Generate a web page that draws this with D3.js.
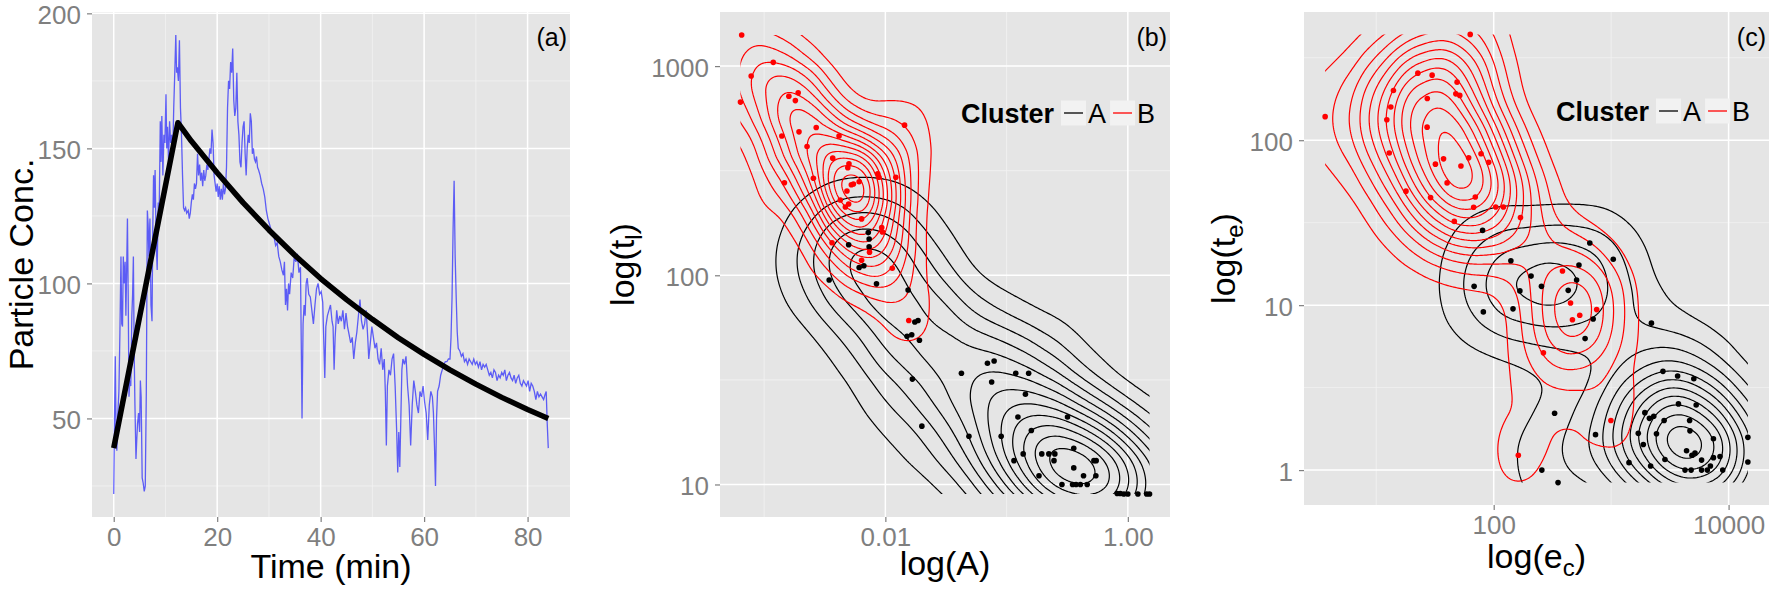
<!DOCTYPE html>
<html>
<head>
<meta charset="utf-8">
<script src="https://cdn.jsdelivr.net/npm/d3@7"></script>
<style>
  body { margin: 0; background: #fff; }
  svg { display: block; }
</style>
</head>
<body>
<div id="chart"></div>
<script>
//Panel (a): concentración de partículas frente al tiempo
const timeMin = [0.0,0.15,0.3,0.45,0.6,0.8,1.0,1.2,1.4,1.55,1.7,1.85,2.0,2.2,2.35,2.5,2.65,2.8,2.95,3.1,3.3,3.5,3.65,3.8,3.95,4.1,4.3,4.45,4.6,4.8,5.0,5.15,5.3,5.5,5.7,5.9,6.1,6.3,6.5,6.65,6.8,7.0,7.2,7.4,7.55,7.7,7.85,8.0,8.2,8.4,8.6,8.8,9.0,9.15,9.3,9.5,9.7,9.9,10.1,10.25,10.4,10.6,10.8,11.0,11.2,11.4,11.6,11.8,12.0,12.15,12.3,12.5,12.7,12.9,13.1,13.3,13.5,13.7,13.9,14.1,14.4,14.6,14.8,15.0,15.2,15.4,15.6,15.8,16.0,16.2,16.4,16.6,16.8,17.0,17.2,17.4,17.6,17.8,18.0,18.2,18.4,18.6,18.8,19.0,19.2,19.4,19.6,19.8,20.0,20.2,20.4,20.6,20.8,21.0,21.2,21.4,21.6,21.8,22.0,22.2,22.4,22.6,22.8,23.0,23.2,23.4,23.6,23.8,24.0,24.2,24.4,24.6,24.8,25.0,25.2,25.4,25.6,25.8,26.0,26.2,26.4,26.6,26.8,27.0,27.2,27.4,27.6,27.8,28.0,28.3,28.6,28.9,29.2,29.5,29.8,30.1,30.4,30.7,31.0,31.3,31.6,31.9,32.2,32.5,32.8,33.0,33.2,33.4,33.6,33.8,34.0,34.3,34.6,34.9,35.2,35.5,35.8,36.1,36.4,36.6,36.8,37.0,37.2,37.4,37.7,38.0,38.3,38.6,38.9,39.2,39.5,39.8,40.1,40.4,40.8,41.0,41.3,41.6,41.9,42.2,42.4,42.6,42.8,43.1,43.4,43.7,44.0,44.3,44.6,44.9,45.2,45.5,45.8,46.1,46.4,46.7,47.0,47.3,47.6,47.9,48.2,48.5,48.8,49.1,49.3,49.6,49.9,50.2,50.5,50.8,51.1,51.4,51.7,52.0,52.3,52.5,52.7,52.9,53.2,53.5,53.8,54.1,54.4,54.7,54.9,55.1,55.3,55.5,55.7,55.9,56.2,56.5,56.8,57.1,57.4,57.7,58.0,58.3,58.6,58.9,59.2,59.5,59.8,60.1,60.4,60.7,61.0,61.3,61.6,61.8,62.0,62.2,62.4,62.6,62.9,63.2,63.5,63.8,64.1,64.4,64.7,65.0,65.2,65.4,65.6,65.8,66.0,66.2,66.4,66.6,66.9,67.2,67.5,67.8,68.1,68.4,68.7,69.0,69.3,69.6,69.9,70.2,70.5,70.8,71.1,71.4,71.7,72.0,72.3,72.6,72.9,73.2,73.5,73.8,74.1,74.4,74.7,75.0,75.3,75.6,75.9,76.2,76.5,76.8,77.1,77.4,77.7,78.0,78.3,78.6,78.9,79.2,79.5,79.8,80.1,80.4,80.7,81.0,81.3,81.6,81.9,82.2,82.5,82.8,83.1,83.4,83.6,83.8,84.0];
const particleConc = [22,50,73,45,38,52,60,82,110,85,84,110,100,108,88,105,124,95,58,64,62,88,96,110,75,55,35,42,48,52,45,64,58,28,26,23,25,60,127,122,110,124,92,86,120,140,128,142,115,105,130,128,160,145,162,140,155,152,170,150,158,145,160,152,155,148,165,178,192,178,180,175,190,165,155,140,128,127,128,126,127,124,126,130,133,131,137,135,137,148,140,144,138,141,136,142,138,140,144,142,146,150,148,157,152,140,137,134,137,132,136,131,135,131,137,133,135,143,165,175,172,182,178,187,168,162,165,178,160,155,145,143,152,158,160,148,140,150,155,152,163,160,148,150,146,145,147,143,142,140,137,135,132,127,124,122,120,118,117,114,115,110,108,105,103,108,92,98,90,100,96,104,102,110,108,111,104,106,50,85,92,88,100,102,96,95,90,85,92,98,100,96,97,93,65,84,88,90,92,86,84,68,80,90,85,88,86,90,83,89,84,81,78,80,72,78,82,88,94,86,83,85,90,80,72,78,84,80,76,78,72,70,76,68,72,60,40,62,68,66,72,74,62,45,30,45,32,50,68,72,70,73,62,55,40,55,64,60,55,52,60,58,62,56,52,42,55,60,58,52,40,25,50,60,62,66,68,70,71,71,72,72,80,95,120,138,110,95,82,76,75,73,74,71,72,70,72,71,70,72,70,71,69,71,68,70,69,70,68,66,67,65,68,67,64,66,65,67,66,68,64,66,67,65,64,66,63,65,66,63,62,64,63,62,64,60,63,62,60,57,60,58,59,58,57,59,60,48,39];

//Ajuste (línea negra)
const fitTime = [0, 12.4, 15, 20, 25, 30, 35, 40, 45, 50, 55, 60, 65, 70, 75, 80, 84];
const fitConc = [39, 159.5, 152.7, 141, 129.9, 119.8, 110.4, 101.8, 94, 86.7, 79.9, 73.7, 68, 62.7, 57.8, 53.3, 50];

//Panel (b): A frente a t_l por cluster
const bAreaA = [0.00723,0.00735,0.00735,0.00498,0.00608,0.00665,0.00344,0.00845,0.0154,0.0175,0.0186,0.0151,0.0165,0.0191,0.0167,0.0424,0.0695,0.0789,0.0753,0.119,0.152,0.143,0.02,0.0489,0.0902,0.124,0.16,0.318,0.358,0.195,0.223,0.25,0.246,0.137,0.115,0.185,0.358,0.431,0.525,0.548,0.545,0.286,0.35,0.374,0.406,0.462,0.817,0.867,0.927,1.0,1.21,1.43,1.51];
const bTimeA = [160,149,137,140,109,111,95,91,85,59.8,60.8,51.1,52,48.9,31.9,34,38,38.9,30.9,34,34,27,19,17,17,21,18.1,21,14.9,14,14,14,13,14,13,11,12,11,13,13,11,10,10,10,10,10,9.05,9.05,9,9,9,9,9];
const bAreaB = [0.000653,0.000638,0.000782,0.00119,0.0016,0.00181,0.00191,0.0014,0.00194,0.00269,0.00226,0.00415,0.00147,0.00255,0.00368,0.00501,0.0049,0.00524,0.00545,0.00482,0.00608,0.00425,0.00468,0.00498,0.00865,0.00885,0.0122,0.0144,0.00933,0.00946,0.00637,0.00363,0.0074,0.00637,0.0114,0.0156];
const bTimeB = [1409,673,897,1042,718,684,745,463,485,509,413,463,277,291,363,341,327,271,273,253,280,229,212,219,306,294,294,522,169,161,186,143,129,118,108,60.8];

//Panel (c): e_c frente a t_e por cluster
const cEnergyA = [80.4,658,1042,140,532,208,255,508,68.1,167,431,146,81.6,703,600,2203,2761,3681,5058,3741,5297,1936,2118,2305,2825,4656,1702,2432,4688,7430,1879,736,330,4385,4875,5176,2871,5888,7430,8453,14590,14590,1419,2168,4256,4797,5888,6592,6998,8913,257,353];
const cTimeA = [28.4,23.8,19,18.6,17.5,15,13,14.2,13,12.2,12.3,9.5,9.1,8.24,6.27,7.78,3.97,3.72,3.58,2.52,2.48,2.23,2.06,2.12,2.0,2.0,1.67,1.66,1.73,1.55,1.43,1.64,2.21,1.31,1.23,1.27,1.16,1.15,1.19,1.21,1.58,1.12,1.11,1.06,1.0,1.0,1.0,1.0,1.06,1.0,1.0,0.84];
const cEnergyB = [3.67,14.0,13.3,12.3,22.6,29.9,27.2,27.1,48.8,47.6,51.4,12.9,17.9,29.0,31.9,37.4,40.1,52.6,61.2,78.0,90.6,69.7,67.5,46.2,104,121,169,63.1,385,451,468,540,753,265,995,162];
const cTimeB = [139,200,159,133,255,248,179,120,225,191,187,83.7,49.1,44.9,71.6,77.1,55.1,69.7,78.2,82.8,73.4,45.3,39.2,32.2,39.4,39.4,34,438,16.1,10.3,8.15,8.68,9.4,5.14,2.0,1.23];

//Ticks y rejillas
const aTicksX = [0, 20, 40, 60, 80], aMinorX = [10, 30, 50, 70];
const aTicksY = [50, 100, 150, 200], aMinorY = [25, 75, 125, 175];
const bTicksX = [0.01, 1], bLabelsX = ['0.01', '1.00'], bMinorX = [0.001, 0.1];
const bTicksY = [10, 100, 1000], bLabelsY = ['10', '100', '1000'], bMinorY = [31.623, 316.23];
const cTicksX = [100, 10000], cLabelsX = ['100', '10000'], cMinorX = [10, 1000];
const cTicksY = [1, 10, 100], cLabelsY = ['1', '10', '100'], cMinorY = [3.1623, 31.623, 316.23];

const clusterNames = ['A', 'B'];
const clusterColors = ['#000000', '#ff0000'];

const FONT = "'Liberation Sans', Arial, sans-serif";

let svg = d3.select('#chart')
    .append('svg')
      .attr('width', 1776)
      .attr('height', 589)
      .style('font-family', FONT);

function expand(e) {
    let d = e[1] - e[0];
    return [e[0] - d * 0.05, e[1] + d * 0.05];
}

function logDomain(vals) {
    return expand(d3.extent(vals, function(v) { return Math.log10(v); }))
        .map(function(v) { return Math.pow(10, v); });
}

//Fondo, rejilla y ejes de un panel
function setPanel(box, x, y, tx, fx, mx, ty, fy, my, id, tag) {
    let w = box.right - box.left, h = box.bottom - box.top;
    let g = svg.append('g').attr('transform', 'translate(' + box.left + ',' + box.top + ')');

    g.append('rect').attr('width', w).attr('height', h).attr('fill', '#e5e5e5');

    g.selectAll('.minor-x').data(mx).enter().append('line')
        .attr('x1', function(d) { return x(d); }).attr('x2', function(d) { return x(d); })
        .attr('y1', 0).attr('y2', h)
        .attr('stroke', '#f2f2f2').attr('stroke-width', 0.8);
    g.selectAll('.minor-y').data(my).enter().append('line')
        .attr('y1', function(d) { return y(d); }).attr('y2', function(d) { return y(d); })
        .attr('x1', 0).attr('x2', w)
        .attr('stroke', '#f2f2f2').attr('stroke-width', 0.8);
    g.selectAll('.major-x').data(tx).enter().append('line')
        .attr('x1', function(d) { return x(d); }).attr('x2', function(d) { return x(d); })
        .attr('y1', 0).attr('y2', h)
        .attr('stroke', '#ffffff').attr('stroke-width', 1.5);
    g.selectAll('.major-y').data(ty).enter().append('line')
        .attr('y1', function(d) { return y(d); }).attr('y2', function(d) { return y(d); })
        .attr('x1', 0).attr('x2', w)
        .attr('stroke', '#ffffff').attr('stroke-width', 1.5);

    let xAxis = g.append('g')
        .attr('transform', 'translate(0,' + h + ')')
        .call(d3.axisBottom(x).tickValues(tx).tickFormat(function(d, i) { return fx[i]; }).tickSize(5).tickPadding(6));
    let yAxis = g.append('g')
        .call(d3.axisLeft(y).tickValues(ty).tickFormat(function(d, i) { return fy[i]; }).tickSize(5).tickPadding(6));

    [xAxis, yAxis].forEach(function(a) {
        a.attr('font-family', FONT).attr('font-size', 26);
        a.select('.domain').remove();
        a.selectAll('.tick line').attr('stroke', '#7f7f7f').attr('stroke-width', 1.2);
        a.selectAll('.tick text').attr('fill', '#7f7f7f');
    });
    yAxis.selectAll('.tick text').attr('dy', '0.4em');

    //Etiqueta del panel
    g.append('text')
        .attr('x', w - 3).attr('y', 34)
        .attr('text-anchor', 'end')
        .attr('font-size', 25)
        .text(tag);

    g.append('clipPath').attr('id', id)
        .append('rect').attr('width', w).attr('height', h);

    return { g: g.append('g').attr('clip-path', 'url(#' + id + ')'), w: w, h: h };
}

//Ancho de banda como MASS::bandwidth.nrd / 4 (kde2d)
function nrd(v) {
    let s = d3.sort(v);
    let iqr = d3.quantileSorted(s, 0.75) - d3.quantileSorted(s, 0.25);
    return 1.06 * Math.min(d3.deviation(v), iqr / 1.34) * Math.pow(v.length, -0.2);
}

//Contornos de densidad 2D en escala log
function drawDensity(g, xv, yv, color, x, y, w, h, clipId, nLevels) {
    let n = xv.length;
    let pxX = x(10) - x(1), pxY = y(1) - y(10);
    let hx = nrd(xv.map(Math.log10)) * pxX,
        hy = nrd(yv.map(Math.log10)) * pxY;
    let k = hy / hx;
    let pts = xv.map(function(v, i) { return [x(v) * k, y(yv[i])]; });

    let density = d3.contourDensity()
        .x(function(d) { return d[0]; })
        .y(function(d) { return d[1]; })
        .size([Math.ceil(w * k), h])
        .cellSize(2)
        .bandwidth(hy);

    let geoms;
    if (typeof density.contours === 'function') {
        let contour = density.contours(pts);
        let levels = d3.range(1, nLevels + 1).map(function(i) { return contour.max * i / (nLevels + 0.6); });
        geoms = levels.map(function(l) { return contour(l); });
    } else {
        geoms = density.thresholds(nLevels)(pts);
    }

    let path = d3.geoPath(d3.geoTransform({
        point: function(px, py) { this.stream.point(px / k, py); }
    }));

    g.append('g')
        .attr('clip-path', 'url(#' + clipId + ')')
        .selectAll('path')
        .data(geoms)
        .enter()
        .append('path')
        .attr('d', path)
        .attr('fill', 'none')
        .attr('stroke', color)
        .attr('stroke-width', 1.2)
        .attr('stroke-linejoin', 'round');
}

function drawPoints(g, xv, yv, color, x, y) {
    g.append('g')
        .selectAll('circle')
        .data(xv)
        .enter()
        .append('circle')
        .attr('cx', function(d) { return x(d); })
        .attr('cy', function(d, i) { return y(yv[i]); })
        .attr('r', 2.8)
        .attr('fill', color);
}

function drawLegend(xText, baseline) {
    let lg = svg.append('g');
    let title = lg.append('text')
        .attr('x', xText).attr('y', baseline)
        .attr('font-size', 27).attr('font-weight', 'bold')
        .text('Cluster');
    let xk = xText + title.node().getComputedTextLength() + 7;
    clusterNames.forEach(function(name, i) {
        lg.append('rect')
            .attr('x', xk).attr('y', baseline - 22.5)
            .attr('width', 25).attr('height', 25)
            .attr('fill', '#f2f2f2');
        lg.append('line')
            .attr('x1', xk + 3).attr('x2', xk + 22)
            .attr('y1', baseline - 10).attr('y2', baseline - 10)
            .attr('stroke', clusterColors[i]).attr('stroke-width', 1.3);
        let t = lg.append('text')
            .attr('x', xk + 27).attr('y', baseline)
            .attr('font-size', 27)
            .text(name);
        xk += 27 + t.node().getComputedTextLength() + 4;
    });
}

function axisTitles(box, xTitle, xBase, yTitle, yBase) {
    let cx = (box.left + box.right) / 2, cy = (box.top + box.bottom) / 2;
    let xt = svg.append('text').attr('x', cx).attr('y', xBase)
        .attr('text-anchor', 'middle').attr('font-size', 34);
    xTitle(xt);
    let yt = svg.append('text')
        .attr('transform', 'translate(' + yBase + ',' + cy + ') rotate(-90)')
        .attr('text-anchor', 'middle').attr('font-size', 34);
    yTitle(yt);
}

function withSub(main, sub) {
    return function(t) {
        t.append('tspan').text(main);
        t.append('tspan').attr('font-size', 24).attr('dy', 8).text(sub);
        t.append('tspan').attr('dy', -8).text(')');
    };
}

/////
// Panel (a)
/////
let boxA = { left: 92, right: 570, top: 12, bottom: 517 };
let xA = d3.scaleLinear().domain(expand(d3.extent(timeMin))).range([0, boxA.right - boxA.left]);
let yA = d3.scaleLinear().domain(expand(d3.extent(particleConc.concat(fitConc)))).range([boxA.bottom - boxA.top, 0]);
let pA = setPanel(boxA, xA, yA, aTicksX, aTicksX.map(String), aMinorX, aTicksY, aTicksY.map(String), aMinorY, 'clip-a', '(a)');

pA.g.append('path')
    .datum(d3.range(timeMin.length))
    .attr('d', d3.line().x(function(i) { return xA(timeMin[i]); }).y(function(i) { return yA(particleConc[i]); }))
    .attr('fill', 'none')
    .attr('stroke', '#0000ff')
    .attr('stroke-opacity', 0.6)
    .attr('stroke-width', 1.3);

pA.g.append('path')
    .datum(d3.range(fitTime.length))
    .attr('d', d3.line().x(function(i) { return xA(fitTime[i]); }).y(function(i) { return yA(fitConc[i]); }))
    .attr('fill', 'none')
    .attr('stroke', '#000')
    .attr('stroke-width', 5.5)
    .attr('stroke-linejoin', 'round');

axisTitles(boxA, function(t) { t.text('Time (min)'); }, 578, function(t) { t.text('Particle Conc.'); }, 33);

/////
// Panel (b)
/////
let boxB = { left: 720, right: 1170, top: 12, bottom: 517 };
let allBx = bAreaA.concat(bAreaB), allBy = bTimeA.concat(bTimeB);
let xB = d3.scaleLog().domain(logDomain(allBx)).range([0, boxB.right - boxB.left]);
let yB = d3.scaleLog().domain(logDomain(allBy)).range([boxB.bottom - boxB.top, 0]);
let pB = setPanel(boxB, xB, yB, bTicksX, bLabelsX, bMinorX, bTicksY, bLabelsY, bMinorY, 'clip-b', '(b)');

pB.g.append('clipPath').attr('id', 'data-b')
    .append('rect')
    .attr('x', xB(d3.min(allBx))).attr('width', xB(d3.max(allBx)) - xB(d3.min(allBx)))
    .attr('y', yB(d3.max(allBy))).attr('height', yB(d3.min(allBy)) - yB(d3.max(allBy)));

drawDensity(pB.g, bAreaA, bTimeA, clusterColors[0], xB, yB, pB.w, pB.h, 'data-b', 12);
drawDensity(pB.g, bAreaB, bTimeB, clusterColors[1], xB, yB, pB.w, pB.h, 'data-b', 13);
drawPoints(pB.g, bAreaA, bTimeA, clusterColors[0], xB, yB);
drawPoints(pB.g, bAreaB, bTimeB, clusterColors[1], xB, yB);
drawLegend(961, 123);

axisTitles(boxB, function(t) { t.text('log(A)'); }, 575, withSub('log(t', 'l'), 634);

/////
// Panel (c)
/////
let boxC = { left: 1304, right: 1769, top: 12, bottom: 505 };
let allCx = cEnergyA.concat(cEnergyB), allCy = cTimeA.concat(cTimeB);
let xC = d3.scaleLog().domain(logDomain(allCx)).range([0, boxC.right - boxC.left]);
let yC = d3.scaleLog().domain(logDomain(allCy)).range([boxC.bottom - boxC.top, 0]);
let pC = setPanel(boxC, xC, yC, cTicksX, cLabelsX, cMinorX, cTicksY, cLabelsY, cMinorY, 'clip-c', '(c)');

pC.g.append('clipPath').attr('id', 'data-c')
    .append('rect')
    .attr('x', xC(d3.min(allCx))).attr('width', xC(d3.max(allCx)) - xC(d3.min(allCx)))
    .attr('y', yC(d3.max(allCy))).attr('height', yC(d3.min(allCy)) - yC(d3.max(allCy)));

drawDensity(pC.g, cEnergyA, cTimeA, clusterColors[0], xC, yC, pC.w, pC.h, 'data-c', 11);
drawDensity(pC.g, cEnergyB, cTimeB, clusterColors[1], xC, yC, pC.w, pC.h, 'data-c', 12);
drawPoints(pC.g, cEnergyA, cTimeA, clusterColors[0], xC, yC);
drawPoints(pC.g, cEnergyB, cTimeB, clusterColors[1], xC, yC);
drawLegend(1556, 121);

axisTitles(boxC, withSub('log(e', 'c'), 568, withSub('log(t', 'e'), 1235);
</script>
</body>
</html>
